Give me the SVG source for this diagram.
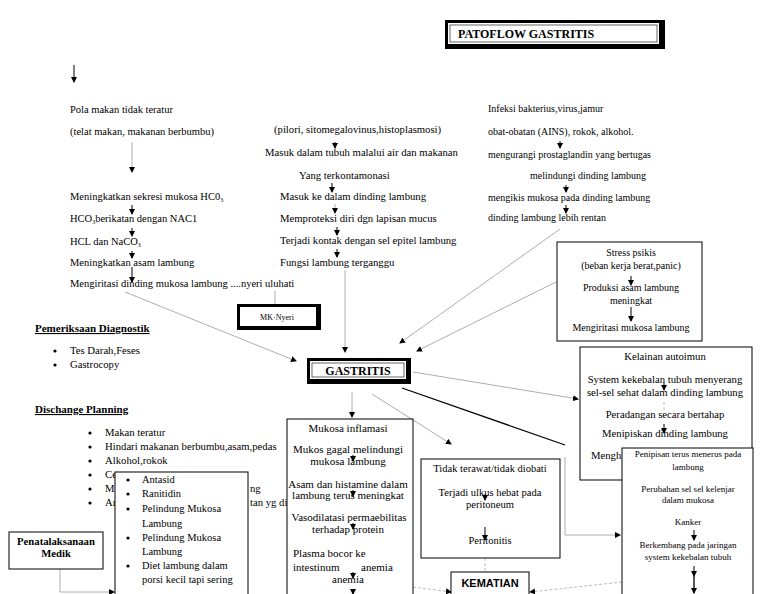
<svg xmlns="http://www.w3.org/2000/svg" width="768" height="594" viewBox="0 0 768 594">
<defs>
<marker id="ah" markerWidth="6" markerHeight="6" refX="5" refY="3" orient="auto" markerUnits="userSpaceOnUse">
<path d="M0,0 L6,3 L0,6 z" fill="#000"/>
</marker>
<style>
text{font-family:"Liberation Serif","DejaVu Serif",serif;font-size:10.5px;fill:#000}
.c{text-anchor:middle}
.s9{font-size:9px}
.s10{font-size:10px}
.s107{font-size:10.7px}
.s11{font-size:11px}
.b{font-weight:bold}
.u{text-decoration:underline}
.sans{font-family:"Liberation Sans",Arial,sans-serif}
.box{fill:#fff;stroke:#000;stroke-width:1}
.ln{fill:none;stroke:#999;stroke-width:0.8}
.dk{fill:none;stroke:#000;stroke-width:1}
.dsh{fill:none;stroke:#aaa;stroke-width:0.8;stroke-dasharray:3 2}
.thick{fill:none;stroke:#000;stroke-width:1.3}
</style>
</defs>
<rect width="768" height="594" fill="#fff"/>

<g id="connectors">
<line class="dk" x1="74" y1="65" x2="74" y2="82" marker-end="url(#ah)"/>
<line class="ln" x1="132" y1="142" x2="132" y2="172" marker-end="url(#ah)"/>
<line class="dk" x1="132" y1="205" x2="132" y2="214" marker-end="url(#ah)"/>
<line class="dk" x1="132" y1="228" x2="132" y2="236" marker-end="url(#ah)"/>
<line class="dk" x1="132" y1="251" x2="132" y2="258" marker-end="url(#ah)"/>
<line class="dk" x1="132" y1="267" x2="132" y2="282" marker-end="url(#ah)"/>
<line class="dk" x1="335" y1="142" x2="335" y2="148" marker-end="url(#ah)"/>
<line class="dk" x1="332" y1="183" x2="332" y2="192" marker-end="url(#ah)"/>
<line class="ln" x1="335" y1="204" x2="335" y2="213" marker-end="url(#ah)"/>
<line class="dk" x1="337" y1="227" x2="337" y2="235" marker-end="url(#ah)"/>
<line class="dk" x1="337" y1="249" x2="337" y2="257" marker-end="url(#ah)"/>
<line class="dk" x1="560" y1="141" x2="560" y2="148" marker-end="url(#ah)"/>
<line class="dk" x1="566" y1="185" x2="566" y2="192" marker-end="url(#ah)"/>
<line class="dk" x1="566" y1="205" x2="566" y2="213" marker-end="url(#ah)"/>
<line class="ln" x1="275" y1="291" x2="275" y2="304"/>
<line class="ln" x1="125" y1="292" x2="296" y2="361" marker-end="url(#ah)"/>
<line class="ln" x1="345" y1="270" x2="345" y2="352" marker-end="url(#ah)"/>
<line class="ln" x1="560" y1="229" x2="400" y2="343" marker-end="url(#ah)"/>
<line class="ln" x1="556" y1="282" x2="417" y2="351" marker-end="url(#ah)"/>
<line class="ln" x1="413" y1="372" x2="578" y2="399" marker-end="url(#ah)"/>
<line class="ln" x1="352" y1="392" x2="352" y2="417" marker-end="url(#ah)"/>
<line class="ln" x1="372" y1="394" x2="451" y2="444" marker-end="url(#ah)"/>
<polyline class="thick" points="402,388 565,445"/>
<polyline class="ln" points="565,457 565,535 620,535" marker-end="url(#ah)"/>
<line class="dsh" x1="485" y1="558" x2="485" y2="572"/>
<line class="dsh" x1="413" y1="587" x2="451" y2="592" marker-end="url(#ah)"/>
<line class="dsh" x1="622" y1="582" x2="530" y2="592" marker-end="url(#ah)"/>
<polyline class="ln" points="60,569 60,592 114,592" marker-end="url(#ah)"/>
</g>

<g id="title">
<rect x="445" y="20" width="220" height="29" fill="#000"/>
<rect x="448" y="23" width="211" height="21" fill="#fff"/>
<rect x="450" y="25" width="207" height="17" fill="none" stroke="#000" stroke-width="0.6"/>
<text x="458" y="38" class="b" style="font-size:12px">PATOFLOW GASTRITIS</text>
</g>

<g id="pola-makan">
<text x="70" y="113">Pola makan tidak teratur</text>
<text x="70" y="135">(telat makan, makanan berbumbu)</text>
<text x="70" y="200">Meningkatkan sekresi mukosa HC0<tspan font-size="6" dy="2">3</tspan></text>
<text x="70" y="222">HCO<tspan font-size="6" dy="2">3</tspan><tspan dy="-2">berikatan dengan NAC1</tspan></text>
<text x="70" y="245">HCL dan NaCO<tspan font-size="6" dy="2">3</tspan></text>
<text x="70" y="266">Meningkatkan asam lambung</text>
<text x="70" y="287">Mengiritasi dinding mukosa lambung ....nyeri uluhati</text>
</g>

<g id="infeksi-pilori">
<text x="274" y="133" class="s107">(pilori, sitomegalovinus,histoplasmosi)</text>
<text x="265" y="156" class="s107">Masuk dalam tubuh malalui air dan makanan</text>
<text x="299" y="179" class="s107">Yang terkontamonasi</text>
<text x="280" y="200" class="s107">Masuk ke dalam dinding lambung</text>
<text x="280" y="222" class="s107">Memproteksi diri dgn lapisan mucus</text>
<text x="280" y="244" class="s107">Terjadi  kontak dengan sel epitel lambung</text>
<text x="280" y="266" class="s107">Fungsi lambung terganggu</text>
</g>

<g id="infeksi-bakteri">
<text x="488" y="112" class="s10">Infeksi bakterius,virus,jamur</text>
<text x="488" y="135" class="s10">obat-obatan (AINS), rokok, alkohol.</text>
<text x="488" y="158" class="s10">mengurangi prostaglandin yang bertugas</text>
<text x="530" y="179" class="s10">melindungi dinding lambung</text>
<text x="488" y="201" class="s10">mengikis mukosa pada dinding lambung</text>
<text x="488" y="221" class="s10">dinding lambung lebih rentan</text>
</g>

<g id="stress">
<rect class="box" x="557" y="242" width="145" height="99"/>
<text x="631" y="256" class="c s10">Stress psikis</text>
<text x="631" y="269" class="c s10">(beban kerja berat,panic)</text>
<line class="dk" x1="631" y1="276" x2="631" y2="285" marker-end="url(#ah)"/>
<text x="631" y="291" class="c s10">Produksi asam lambung</text>
<text x="631" y="304" class="c s10">meningkat</text>
<line class="dk" x1="631" y1="307" x2="631" y2="321" marker-end="url(#ah)"/>
<text x="631" y="331" class="c s10">Mengiritasi mukosa lambung</text>
</g>

<g id="mk-nyeri">
<rect x="237" y="304" width="84" height="26" fill="#000"/>
<rect x="240" y="307" width="76" height="19" fill="#fff"/>
<text x="277" y="320" class="c" style="font-size:8px">MK·Nyeri</text>
</g>

<g id="gastritis">
<rect x="307" y="358" width="104" height="26" fill="#000"/>
<rect x="310" y="361" width="96" height="18" fill="#fff"/>
<rect x="312" y="363" width="92" height="14" fill="none" stroke="#000" stroke-width="0.6"/>
<text x="358" y="375" class="c b" style="font-size:12px">GASTRITIS</text>
</g>

<g id="diagnostik">
<text x="35" y="332" class="b u s11">Pemeriksaan Diagnostik</text>
<circle cx="55" cy="351" r="1.6"/>
<text x="70" y="354" class="s107">Tes Darah,Feses</text>
<circle cx="55" cy="365" r="1.6"/>
<text x="70" y="368" class="s107">Gastrocopy</text>
</g>

<g id="discharge">
<text x="35" y="413" class="b u s11">Dischange Planning</text>
<circle cx="90" cy="433" r="1.6"/>
<text x="105" y="436" class="s107">Makan teratur</text>
<circle cx="90" cy="447" r="1.6"/>
<text x="105" y="450" class="s107">Hindari makanan berbumbu,asam,pedas</text>
<circle cx="90" cy="461" r="1.6"/>
<text x="105" y="464" class="s107">Alkohol,rokok</text>
<circle cx="90" cy="475" r="1.6"/>
<text x="105" y="478" class="s107">Ce</text>
<circle cx="90" cy="489" r="1.6"/>
<text x="105" y="492" class="s107">M</text>
<text x="250" y="492" class="s107">ng</text>
<circle cx="90" cy="503" r="1.6"/>
<text x="105" y="506" class="s107">Ar</text>
<text x="250" y="506" class="s107">tan yg di</text>
</g>

<g id="obat">
<rect class="box" x="115" y="472" width="133" height="124"/>
<circle cx="128" cy="480" r="1.6"/>
<text x="142" y="483">Antasid</text>
<circle cx="128" cy="494" r="1.6"/>
<text x="142" y="497">Ranitidin</text>
<circle cx="128" cy="509" r="1.6"/>
<text x="142" y="512">Pelindung Mukosa</text>
<text x="142" y="527">Lambung</text>
<circle cx="128" cy="538" r="1.6"/>
<text x="142" y="541">Pelindung Mukosa</text>
<text x="142" y="555">Lambung</text>
<circle cx="128" cy="566" r="1.6"/>
<text x="142" y="569">Diet lambung dalam</text>
<text x="142" y="583">porsi kecil tapi sering</text>
</g>

<g id="penatalaksanaan">
<rect class="box" x="9" y="532" width="94" height="37"/>
<text x="56" y="545" class="c b s107">Penatalaksanaan</text>
<text x="56" y="557" class="c b s107">Medik</text>
</g>

<g id="mukosa">
<rect class="box" x="287" y="419" width="126" height="178"/>
<text x="348" y="432" class="c s11">Mukosa inflamasi</text>
<text x="348" y="453" class="c s11">Mukos gagal melindungi</text>
<text x="348" y="465" class="c s11">mukosa lambung</text>
<line class="dk" x1="353" y1="455" x2="353" y2="461" marker-end="url(#ah)"/>
<text x="348" y="488" class="c s11">Asam dan histamine dalam</text>
<text x="348" y="499" class="c s11">lambung terus meningkat</text>
<line class="dk" x1="353" y1="490" x2="353" y2="496" marker-end="url(#ah)"/>
<text x="349" y="521" class="c s11">Vasodilatasi permaebilitas</text>
<text x="348" y="533" class="c s11">terhadap protein</text>
<line class="dk" x1="353" y1="523" x2="353" y2="529" marker-end="url(#ah)"/>
<text x="293" y="557" class="s11">Plasma bocor ke</text>
<text x="293" y="571" class="s11">intestinum</text>
<text x="361" y="571" class="s11">anemia</text>
<line class="dk" x1="353" y1="572" x2="353" y2="578" marker-end="url(#ah)"/>
<text x="348" y="583" class="c s11">anemia</text>
<line class="dk" x1="353" y1="589" x2="353" y2="594" marker-end="url(#ah)"/>
</g>

<g id="tidak-terawat">
<rect class="box" x="421" y="459" width="139" height="99"/>
<text x="490" y="472" class="c">Tidak terawat/tidak diobati</text>
<text x="490" y="496" class="c">Terjadi ulkus hebat pada</text>
<text x="490" y="508" class="c">peritoneum</text>
<line class="dk" x1="485" y1="494" x2="485" y2="500" marker-end="url(#ah)"/>
<line class="dk" x1="485" y1="527" x2="485" y2="540" marker-end="url(#ah)"/>
<text x="490" y="544" class="c">Peritonitis</text>
</g>

<g id="kematian">
<rect class="box" x="451" y="572" width="78" height="26"/>
<text x="490" y="587" class="c b sans" style="font-size:11px">KEMATIAN</text>
</g>

<g id="autoimun">
<rect class="box" x="580" y="347" width="172" height="133"/>
<text x="665" y="360" class="c s107">Kelainan autoimun</text>
<text x="665" y="383" class="c s107">System kekebalan tubuh menyerang</text>
<text x="665" y="396" class="c s107">sel-sel sehat dalam dinding lambung</text>
<line class="dk" x1="664" y1="383" x2="664" y2="390" marker-end="url(#ah)"/>
<line class="dsh" x1="664" y1="402" x2="664" y2="411"/>
<text x="665" y="418" class="c s107">Peradangan secara bertahap</text>
<line class="dk" x1="664" y1="424" x2="664" y2="433" marker-end="url(#ah)"/>
<text x="665" y="437" class="c s107">Menipiskan dinding lambung</text>
<text x="591" y="459" class="s107">Mengh</text>
</g>

<g id="penipisan">
<rect class="box" x="622" y="448" width="131" height="148"/>
<text x="688" y="457" class="c s9">Penipisan terus menerus pada</text>
<text x="688" y="470" class="c s9">lambung</text>
<text x="688" y="492" class="c s9">Perubahan sel sel kelenjar</text>
<text x="688" y="503" class="c s9">dalam mukosa</text>
<text x="688" y="525" class="c s9">Kanker</text>
<line class="dk" x1="694" y1="530" x2="694" y2="540" marker-end="url(#ah)"/>
<text x="688" y="548" class="c s9">Berkembang pada jaringan</text>
<text x="688" y="560" class="c s9">system kekebalan tubuh</text>
<line class="dk" x1="694" y1="566" x2="694" y2="576" marker-end="url(#ah)"/>
<line class="thick" x1="694" y1="576" x2="694" y2="593" marker-end="url(#ah)"/>
</g>
</svg>
